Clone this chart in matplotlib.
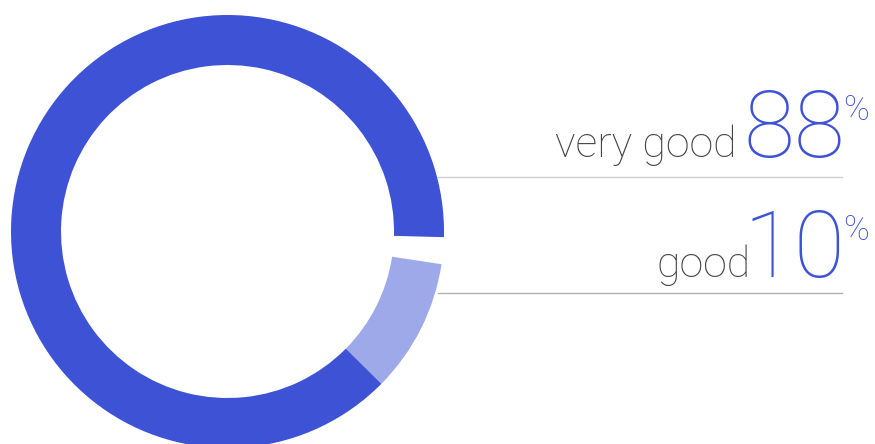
import matplotlib.pyplot as plt

labels = ['very good', 'good']
values = [88, 10]
colors = ['#3d52d5', '#9ea9e9']

W, H = 875, 444
fig = plt.figure(figsize=(W / 100, H / 100), dpi=100)
ax = fig.add_axes([0, 0, 1, 1])

# gap wedge first, then the small slice, then the big one (clockwise)
gap = 100 - sum(values)
sizes = [gap, values[1], values[0]]
ax.pie(sizes, colors=['none', colors[1], colors[0]], startangle=-1.5,
       counterclock=False, center=(227.5, H - 231.5), radius=216.5,
       wedgeprops=dict(width=50, linewidth=0))

ax.set_xlim(0, W)
ax.set_ylim(0, H)
ax.set_aspect('equal')
ax.axis('off')

font = 'Roboto'
rows = [(157, 177, '#cfcfcf', 737), (277, 293, '#b0b0b0', 751)]
for (lab, val), (base, line_y, lc, lab_x) in zip(zip(labels, values), rows):
    ax.plot([438, 842], [H - line_y, H - line_y], color=lc, lw=1)
    ax.text(845, H - base, str(val), ha='right', va='baseline',
            fontsize=67, color=colors[0], family=font, weight='light')
    ax.text(843, H - base + 63, '%', ha='left', va='top', fontsize=25,
            color=colors[0], family=font, weight='light')
    ax.text(lab_x, H - base, lab, ha='right', va='baseline',
            fontsize=31, color='#444444', family=font, weight='light')

fig.savefig('out.png', dpi=100)
